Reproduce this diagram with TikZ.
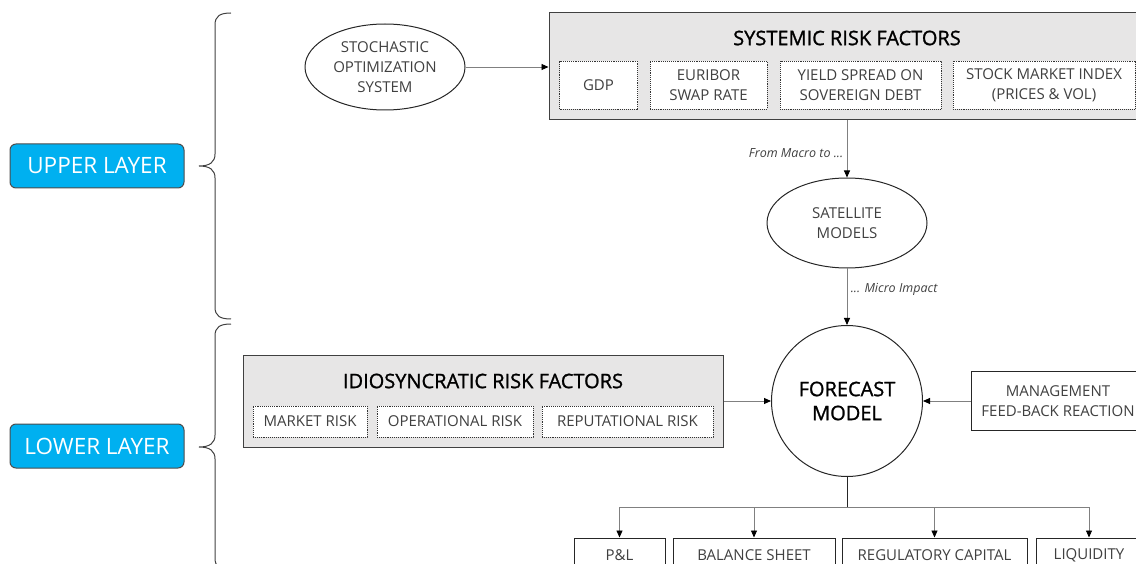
\documentclass[tikz,border=0pt]{standalone}
\usepackage{fontspec}
\setmainfont{Open Sans}
\newfontfamily\headfont[FakeBold=1.2]{Open Sans}
\usetikzlibrary{shapes.geometric,arrows.meta}
\definecolor{txtgray}{HTML}{404040}
\definecolor{linegray}{HTML}{808080}
\definecolor{panelgray}{HTML}{E7E6E6}
\definecolor{layerblue}{HTML}{00B0F0}
% curly brace at x=215, from y=#1 to y=#3, tip at y=#2
\newcommand{\layerbrace}[3]{
	\draw[line width=1pt, txtgray] (231,#1) .. controls (220,#1) and (215,#1+3) .. (215,#1+12)
		-- (215,#2-12) .. controls (215,#2-4) and (210,#2) .. (199,#2)
		.. controls (210,#2) and (215,#2+4) .. (215,#2+12)
		-- (215,#3-12) .. controls (215,#3-3) and (220,#3) .. (231,#3);
}
\tikzset{
	body/.style={font=\fontsize{15}{20}\selectfont, text=txtgray, align=center},
	panel/.style={draw=txtgray, line width=1pt, fill=panelgray, inner sep=0pt},
	paneltitle/.style={font=\headfont\fontsize{20}{24}\selectfont, text=black},
	factor/.style={body, draw=black!80, densely dotted, line width=0.9pt, fill=white, inner sep=0pt},
	plainbox/.style={body, draw=black!85, line width=1pt, fill=white, inner sep=0pt},
	model/.style={body, draw=black!85, line width=1pt, ellipse, inner sep=0pt},
	layer/.style={draw=black!70, line width=1pt, fill=layerblue, rounded corners=6pt, text=white,
		font=\fontsize{22.5}{26}\selectfont, minimum width=174, minimum height=44},
	link/.style={draw=linegray, line width=0.9pt, -{Triangle[length=7pt,width=6pt,color=black]}},
	note/.style={font=\fontsize{12.5}{14}\selectfont\itshape, text=txtgray},
}
\begin{document}
\begin{tikzpicture}[x=1pt,y=-1pt]
	\useasboundingbox (0,0) rectangle (1136,564);
	\clip (0,0) rectangle (1136,564);

	% layers
	\node[layer] (upper) at (97,166) {UPPER LAYER};
	\node[layer] (lower) at (97,446) {LOWER LAYER};
	\layerbrace{13}{166}{319}
	\layerbrace{324}{447}{570}

	% upper layer
	\node[model, minimum width=160, minimum height=86] (stoch) at (385,67) {STOCHASTIC\\OPTIMIZATION\\SYSTEM};
	\node[panel, minimum width=596, minimum height=107] (sys) at (847,66.5) {};
	\node[paneltitle] (systitle) at (847,38) {SYSTEMIC RISK FACTORS};
	\node[factor, minimum width=78, minimum height=48] (gdp) at (598.5,85) {GDP};
	\node[factor, minimum width=117, minimum height=48] (euribor) at (708.5,85) {EURIBOR\\SWAP RATE};
	\node[factor, minimum width=161, minimum height=48] (yield) at (860.5,85) {YIELD SPREAD ON\\SOVEREIGN DEBT};
	\node[factor, minimum width=182, minimum height=48] (stock) at (1044,85) {STOCK MARKET INDEX\\(PRICES \& VOL)};
	\node[model, minimum width=160, minimum height=90] (sat) at (847,223) {SATELLITE\\MODELS};

	% lower layer
	\node[model, circle, minimum size=151, font=\headfont\fontsize{20}{24}\selectfont, text=black] (fc) at (847,401) {FORECAST\\MODEL};
	\node[panel, minimum width=480, minimum height=92] (idio) at (483,401) {};
	\node[paneltitle] (idiotitle) at (483,381) {IDIOSYNCRATIC RISK FACTORS};
	\node[factor, minimum width=114, minimum height=31] (mkt) at (310,421.5) {MARKET RISK};
	\node[factor, minimum width=156, minimum height=31] (oper) at (455,421.5) {OPERATIONAL RISK};
	\node[factor, minimum width=171, minimum height=31] (reput) at (627.5,421.5) {REPUTATIONAL RISK};
	\node[plainbox, minimum width=174, minimum height=59] (mgmt) at (1058,401) {MANAGEMENT\\FEED-BACK REACTION};
	\node[plainbox, minimum width=91, minimum height=34] (pl) at (619.5,555) {P\&L};
	\node[plainbox, minimum width=162, minimum height=34] (bs) at (754,555) {BALANCE SHEET};
	\node[plainbox, minimum width=185, minimum height=34] (rc) at (934.5,555) {REGULATORY CAPITAL};
	\node[plainbox, minimum width=106, minimum height=34] (liq) at (1089,555) {LIQUIDITY};
	\coordinate (split) at (847,507);

	% connectors
	\draw[link] (stoch) -- (sys.west |- stoch);
	\draw[link] (sys.south) -- node[note, left, pos=0.57] {From Macro to ...} (sat);
	\draw[link] (sat) -- node[note, right, pos=0.37] {... Micro Impact} (fc);
	\draw[link] (idio) -- (fc);
	\draw[link] (mgmt) -- (fc);
	\draw[line width=1pt, black!85] (fc) -- (split);
	\foreach \out in {pl,bs,rc,liq}
		\draw[link] (split) -| (\out);
\end{tikzpicture}
\end{document}
